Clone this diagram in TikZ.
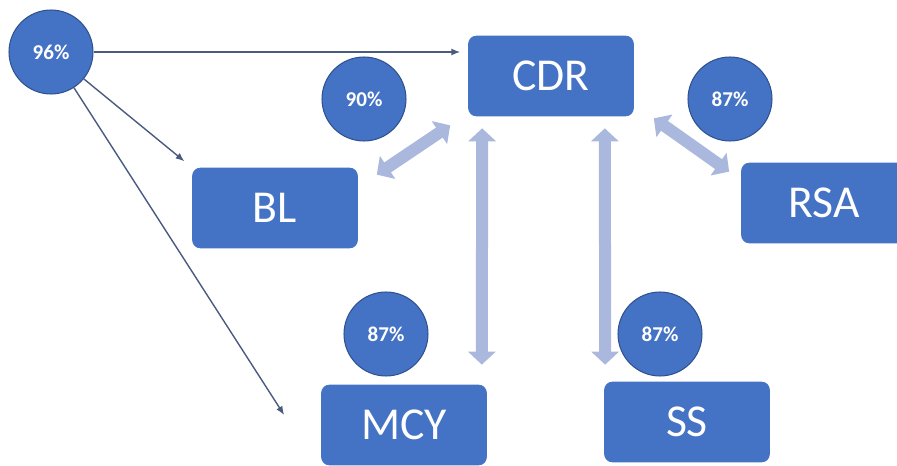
\documentclass[tikz,border=0pt]{standalone}
\usepackage{fontspec}
\setmainfont{Carlito}
\usetikzlibrary{arrows.meta}
\definecolor{boxblue}{HTML}{4472C4}
\definecolor{ringblue}{HTML}{2F528F}
\definecolor{linkblue}{HTML}{AAB8DE}
\definecolor{lineblue}{HTML}{4A5B80}
\tikzset{
  unit/.style={fill=boxblue, draw=boxblue, rounded corners=0.16cm, minimum width=3.3cm, minimum height=1.6cm, text=white, font=\fontsize{26}{30}\selectfont},
  score/.style={circle, fill=boxblue, draw=ringblue, line width=0.6pt, minimum size=1.68cm, inner sep=0pt, text=white, font=\fontsize{12}{14}\selectfont\bfseries},
  link/.style={draw=linkblue, line width=0.24cm, {Triangle[width=0.54cm,length=0.26cm]}-{Triangle[width=0.54cm,length=0.26cm]}},
  feed/.style={draw=lineblue, line width=0.8pt, -{Latex[length=5pt,width=4pt]}}
}
\begin{document}
\begin{tikzpicture}[x=0.02cm, y=-0.02cm]
\useasboundingbox (0,0) rectangle (897,466);
% Draw the boxes
\foreach \nm/\x/\y/\txt in {cdr/551/76/CDR, bl/275/208/BL, rsa/824/203/RSA, mcy/404/425/MCY, ss/687/422/SS}
{
  \node[unit] (\nm) at (\x,\y) {\txt};
}
% Draw the scores in circles
\foreach \nm/\x/\y/\val in {p96/51/52/96, p90/364/99/90, prsa/730/99/87, pmcy/386/334/87, pss/660/334/87}
{
  \node[score] (\nm) at (\x,\y) {\val\%};
}
% Links between CDR and the others
\draw[link] ([shift={(-18,9)}]cdr.south west) -- ([shift={(19,7)}]bl.north east);
\draw[link] ([shift={(20,2)}]cdr.south east) -- ([shift={(-12,9)}]rsa.north west);
\draw[link] ([shift={(14,12)}]cdr.south west) -- ([shift={(-5,-20)}]mcy.north east);
\draw[link] ([shift={(-29,12)}]cdr.south east) -- ([shift={(1,-17)}]ss.north west);
% Thin arrows out of 96%
\coordinate (mcyend) at ([shift={(-37,-10)}]mcy.west);
\draw[feed, shorten >=0.16cm] (p96) -- (cdr.west |- p96);
\draw[feed, shorten >=0.2cm] (p96) -- (bl.north west);
\draw[feed] (p96) -- (mcyend);
\end{tikzpicture}
\end{document}
